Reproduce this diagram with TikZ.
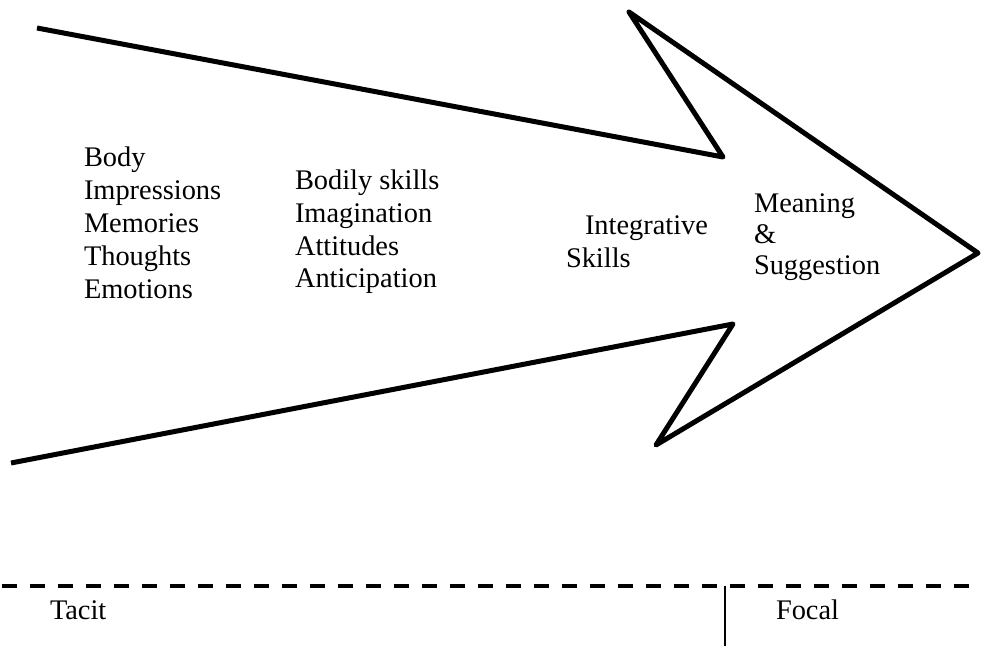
\documentclass[tikz,border=0pt]{standalone}
\usepackage{fontspec}
\setmainfont{Liberation Serif}
\begin{document}
\begin{tikzpicture}[x=1bp,y=-1bp,
  lbl/.style={inner sep=0pt,outer sep=0pt,align=left,anchor=base west,
    font=\fontsize{28.5}{33}\selectfont},
  arrowline/.style={line width=5bp,line join=round,line cap=butt},
  divider/.style={line width=4bp,dash pattern=on 15bp off 13bp},
  splitline/.style={line width=2.7bp}]
\useasboundingbox (0,0) rectangle (982,646);
% big open arrow
\coordinate (a1) at (37,28);
\coordinate (a2) at (723,157);
\coordinate (a3) at (629,12);
\coordinate (a4) at (978,253);
\coordinate (a5) at (656,445);
\coordinate (a6) at (733,324);
\coordinate (a7) at (11,463);
\draw[arrowline] (a1) -- (a2) -- (a3) -- (a4) -- (a5) -- (a6) -- (a7);
% labels (base anchor = baseline of last line)
\node[lbl] (col1) at (84,298) {Body\\Impressions\\Memories\\Thoughts\\Emotions};
\node[lbl] (col2) at (295,288) {Bodily skills\\Imagination\\Attitudes\\Anticipation};
\node[lbl] (integ) at (585,235) {Integrative};
\node[lbl] (skills) at (566,268) {Skills};
\node[lbl,font=\fontsize{28.5}{31.5}\selectfont] (mean) at (754,275) {Meaning\\\&\\Suggestion};
% bottom divider
\coordinate (d1) at (2,586);
\coordinate (d2) at (980,586);
\draw[divider] (d1) -- (d2);
\coordinate (v1) at (725,586);
\coordinate (v2) at (725,646);
\draw[splitline] (v1) -- (v2);
\node[lbl] (tacit) at (50,619) {Tacit};
\node[lbl] (focal) at (776,619) {Focal};
\end{tikzpicture}
\end{document}
